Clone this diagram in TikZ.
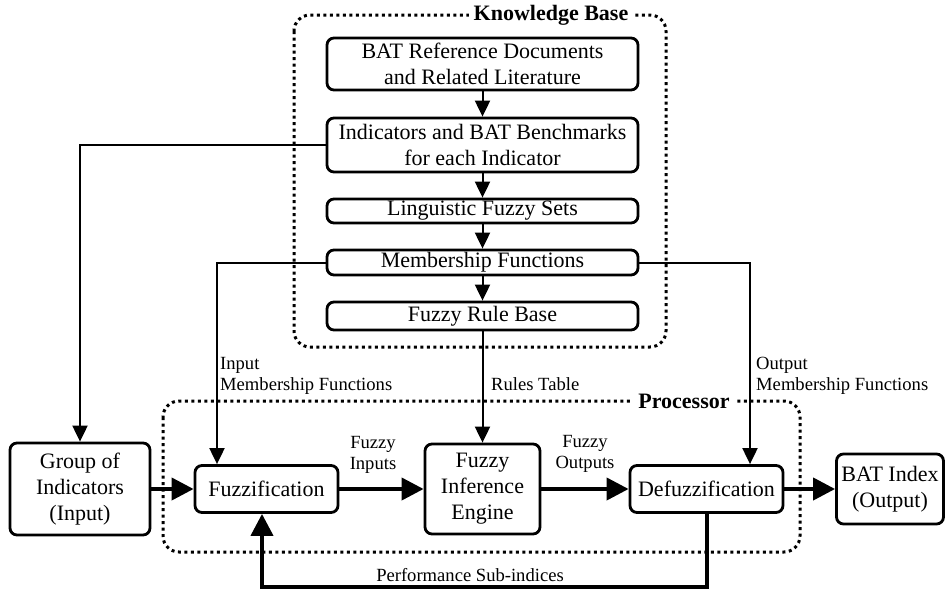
\documentclass[tikz,border=0pt]{standalone}
\usepackage{fontspec}
\setmainfont{Liberation Serif}
\usetikzlibrary{arrows.meta}
\begin{document}
\begin{tikzpicture}[x=1pt,y=-1pt,
  box/.style={draw, line width=2.8pt, rounded corners=7pt, align=center, inner sep=0pt,
    font=\fontsize{22}{26}\selectfont},
  kbbox/.style={box, minimum width=311pt},
  lbl/.style={font=\fontsize{18.6}{20.5}\selectfont, inner sep=0pt},
  thinar/.style={line width=2pt, -{Triangle[length=16pt,width=15pt]}},
  thickar/.style={line width=4pt, -{Triangle[length=22pt,width=22pt]}},
  dotbox/.style={line width=3pt, dash pattern=on 3pt off 3.5pt, rounded corners=16pt},
  title/.style={fill=white, inner sep=5pt, font=\fontsize{22}{26}\selectfont\bfseries}]
\useasboundingbox (0,0) rectangle (946,592);
% dotted groups
\draw[dotbox] (294,15) rectangle (666,347);
\node[title] (kbt) at (551,15) {Knowledge Base};
\draw[dotbox] (163,401) rectangle (800,552);
% knowledge base boxes
\node[kbbox, minimum height=52pt] (b1) at (482.5,64) {BAT Reference Documents\\and Related Literature};
\node[kbbox, minimum height=54pt] (b2) at (482.5,145) {Indicators and BAT Benchmarks\\for each Indicator};
\node[kbbox, minimum height=24pt] (b3) at (482.5,211) {Linguistic Fuzzy Sets};
\node[kbbox, minimum height=25pt] (b4) at (482.5,262.5) {Membership Functions};
\node[kbbox, minimum height=28pt] (b5) at (482.5,316) {Fuzzy Rule Base};
% processor boxes
\node[box, minimum width=140pt, minimum height=92pt] (grp) at (80,489) {Group of\\Indicators\\(Input)};
\node[box, minimum width=143pt, minimum height=47pt] (fuz) at (266.5,489) {Fuzzification};
\node[box, minimum width=115pt, minimum height=90pt] (fie) at (482.5,489) {Fuzzy\\Inference\\Engine};
\node[box, minimum width=153pt, minimum height=47pt] (def) at (706.5,489) {Defuzzification};
\node[box, minimum width=107pt, minimum height=70pt] (bat) at (890,489) {BAT Index\\(Output)};
\node[title] (prt) at (684,401) {Processor};
% coordinates
\coordinate (inmf) at (217,262.5);
\coordinate (outmf) at (750,262.5);
\coordinate (fbl) at (262,587);
% connectors inside KB
\draw[thinar] (b1) -- (b2);
\draw[thinar] (b2) -- (b3);
\draw[thinar] (b3) -- (b4);
\draw[thinar] (b4) -- (b5);
% connectors
\draw[thinar] (b2.west) -| (grp.north);
\draw[thinar] (b4.west) -- (inmf) -- (inmf |- fuz.north);
\draw[thinar] (b4.east) -- (outmf) -- (outmf |- def.north);
\draw[thinar] (b5.south) -- (fie.north);
\draw[thickar] (grp.east) -- (fuz.west);
\draw[thickar] (fuz.east) -- (fie.west);
\draw[thickar] (fie.east) -- (def.west);
\draw[thickar] (def.east) -- (bat.west);
\draw[thickar] (def.south) |- (fbl) -- (fbl |- fuz.south);
% labels
\node[lbl, anchor=west, align=left] (linmf) at (220,376) {Input\\Membership Functions};
\node[lbl, anchor=west, align=left] (loutmf) at (756,376) {Output\\Membership Functions};
\node[lbl, anchor=west] (lrt) at (491,384) {Rules Table};
\node[lbl, align=center] (lfi) at (373,455) {Fuzzy\\Inputs};
\node[lbl, align=center] (lfo) at (585,454) {Fuzzy\\Outputs};
\node[lbl] (lps) at (470,575) {Performance Sub-indices};
\end{tikzpicture}
\end{document}
